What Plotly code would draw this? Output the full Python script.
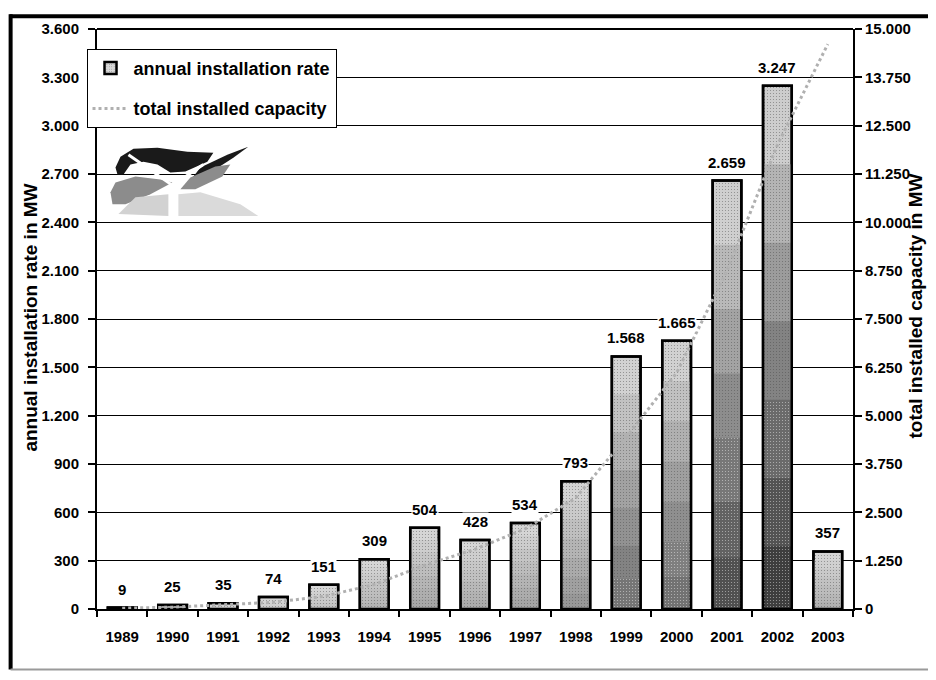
import plotly.graph_objects as go

# ---- data ----
years = ["1989", "1990", "1991", "1992", "1993", "1994", "1995", "1996",
         "1997", "1998", "1999", "2000", "2001", "2002", "2003"]
annual_rate = [9, 25, 35, 74, 151, 309, 504, 428, 534, 793, 1568, 1665, 2659, 3247, 357]
total_capacity = [20, 48, 110, 174, 326, 632, 1132, 1545, 2075, 2872, 4442, 6107, 8750, 12001, 14609]
left_ticks = [0, 300, 600, 900, 1200, 1500, 1800, 2100, 2400, 2700, 3000, 3300, 3600]
right_ticks = [0, 1250, 2500, 3750, 5000, 6250, 7500, 8750, 10000, 11250, 12500, 13750, 15000]

FONT = "Liberation Sans"
PAGE_W, PAGE_H = 936, 680
OFF = 8                      # default body margin of the html page
W, H = PAGE_W - OFF, PAGE_H - 2 * OFF
# plot area in page pixels
L, R, T, B = 96.5, 853.5, 23, 609


def fmt(v):
    return f"{v:,}".replace(",", ".")


def P(px, py):
    """page pixel -> paper coordinates"""
    return (px - L) / (R - L), (B - py) / (B - T)


def path(points):
    pts = [P(x, y) for x, y in points]
    return "M " + " L ".join(f"{x:.5f},{y:.5f}" for x, y in pts) + " Z"


vmax = max(annual_rate)
TOP_G = 218


def band_color(v, f):
    """grey for a band centred at fraction f of the bar height (light top -> dark bottom)"""
    bottom = TOP_G - 165 * (v / vmax) ** 0.6
    g = int(bottom + (TOP_G - bottom) * f)
    return f"rgb({g},{g},{g})"


fig = go.Figure()

# gradient bars: overlaid layers of decreasing height
levels = [1.0, 0.85, 0.7, 0.55, 0.4, 0.25, 0.12]
for k, f in enumerate(levels):
    nxt = levels[k + 1] if k + 1 < len(levels) else 0.0
    mid = (f + nxt) / 2
    fig.add_trace(go.Bar(
        x=years, y=[v * f for v in annual_rate],
        name="annual installation rate",
        marker=dict(
            color=[band_color(v, mid) for v in annual_rate],
            line=dict(color="black", width=2.5 if k == 0 else 0),
            pattern=dict(shape=".", fgcolor="#303030", size=3, solidity=0.12),
        ),
        showlegend=(k == 0), legendgroup="a", yaxis="y", hoverinfo="skip",
    ))

# outline on top
fig.add_trace(go.Bar(
    x=years, y=annual_rate, name="annual installation rate",
    marker=dict(color="rgba(0,0,0,0)", line=dict(color="black", width=2.5)),
    showlegend=False, legendgroup="a", yaxis="y",
))

fig.add_trace(go.Scatter(
    x=years, y=total_capacity, name="total installed capacity",
    mode="lines", line=dict(color="#b0b0b0", width=3, dash="dot"),
    legendgroup="b", yaxis="y2",
))

# data labels (category index positions)
for i, v in enumerate(annual_rate):
    fig.add_annotation(
        x=i, y=v, xref="x", yref="y", text=fmt(v), showarrow=False,
        yanchor="bottom", yshift=9, bgcolor="white", borderpad=0,
        font=dict(family=FONT, size=15, color="black", weight="bold"),
    )

tickfont = dict(family=FONT, size=15, color="black", weight="bold")

fig.update_layout(
    width=W, height=H,
    margin=dict(l=L - OFF, r=PAGE_W - R, t=T - OFF, b=(H + OFF) - B, pad=0),
    paper_bgcolor="white", plot_bgcolor="white",
    separators=",.",
    barmode="overlay",
    bargap=0.43,
    showlegend=True,
    legend=dict(
        x=P(86, 0)[0], y=P(0, 43)[1], xanchor="left", yanchor="top",
        bgcolor="white", bordercolor="black", borderwidth=1,
        font=dict(family=FONT, size=18, color="black", weight="bold"),
        traceorder="grouped", tracegroupgap=14, itemwidth=36,
    ),
    xaxis=dict(
        type="category", range=[-0.5, len(years) - 0.5], autorange=False,
        showline=True, linecolor="black", linewidth=2,
        ticks="outside", ticklen=6, tickwidth=2, tickcolor="black",
        tickson="boundaries", tickfont=tickfont, tickangle=0,
        ticklabelstandoff=13,
        showgrid=False, zeroline=False,
    ),
    yaxis=dict(
        range=[0, 3600], autorange=False, tickvals=left_ticks,
        tickformat=",d", exponentformat="none",
        showline=True, linecolor="black", linewidth=2,
        ticks="outside", ticklen=7, tickwidth=1.5, tickcolor="black",
        showgrid=True, gridcolor="black", gridwidth=1,
        tickfont=tickfont, zeroline=False, ticklabelstandoff=6,
    ),
    yaxis2=dict(
        range=[0, 15000], autorange=False, tickvals=right_ticks,
        tickformat=",d", exponentformat="none",
        overlaying="y", side="right",
        showline=True, linecolor="black", linewidth=2,
        ticks="outside", ticklen=7, tickwidth=1.5, tickcolor="black",
        showgrid=False, tickfont=tickfont, zeroline=False,
    ),
)

# axis titles
fig.add_annotation(
    x=P(29, 0)[0], y=P(0, 315)[1], xref="paper", yref="paper",
    xanchor="center", yanchor="middle",
    text="annual installation rate in MW", textangle=-90, showarrow=False,
    font=dict(family=FONT, size=19, color="black", weight="bold"),
)
fig.add_annotation(
    x=P(916, 0)[0], y=P(0, 303)[1], xref="paper", yref="paper",
    xanchor="center", yanchor="middle",
    text="total installed capacity in MW", textangle=-90, showarrow=False,
    font=dict(family=FONT, size=19, color="black", weight="bold"),
)

# top border of plot
fig.add_shape(type="line", xref="paper", yref="paper", x0=0, x1=1, y0=1, y1=1,
              line=dict(color="black", width=2))

# outer frame
fig.add_shape(type="line", xref="paper", yref="paper",
              x0=P(9, 0)[0], x1=P(936, 0)[0], y0=P(0, 10)[1], y1=P(0, 10)[1],
              line=dict(color="black", width=4))
fig.add_shape(type="line", xref="paper", yref="paper",
              x0=P(10, 0)[0], x1=P(10, 0)[0], y0=P(0, 8)[1], y1=P(0, 670)[1],
              line=dict(color="black", width=4))
fig.add_shape(type="line", xref="paper", yref="paper",
              x0=P(10, 0)[0], x1=P(936, 0)[0], y0=P(0, 670)[1], y1=P(0, 670)[1],
              line=dict(color="#9a9a9a", width=2))

# logo (wind turbine leaves)
logo = [
    ([(115, 163), (120, 152), (133, 144), (157, 143), (187, 147), (213, 148),
      (207, 157), (185, 167), (170, 168), (157, 160), (143, 157), (130, 160),
      (123, 170), (117, 170)], "#1a1a1a"),
    ([(187, 180), (200, 163), (227, 150), (248, 142), (233, 153), (207, 170)], "#1a1a1a"),
    ([(110, 188), (115, 178), (135, 172), (160, 175), (172, 178), (150, 190),
      (125, 200), (112, 200)], "#8c8c8c"),
    ([(180, 185), (190, 173), (215, 162), (230, 160), (222, 172), (195, 185)], "#8c8c8c"),
    ([(118, 210), (135, 193), (168, 190), (168, 212)], "#d2d2d2"),
    ([(178, 190), (200, 188), (240, 200), (258, 212), (178, 212)], "#dadada"),
]
for pts, col in logo:
    fig.add_shape(type="path", xref="paper", yref="paper", path=path(pts),
                  fillcolor=col, line=dict(width=0), layer="above")
for (x0, y0), (x1, y1) in [((128, 150), (172, 181)), ((172, 181), (203, 160)),
                           ((172, 181), (172, 213))]:
    a, b = P(x0, y0), P(x1, y1)
    fig.add_shape(type="line", xref="paper", yref="paper", x0=a[0], y0=a[1],
                  x1=b[0], y1=b[1], line=dict(color="white", width=3), layer="above")

fig.write_html("out.html")
